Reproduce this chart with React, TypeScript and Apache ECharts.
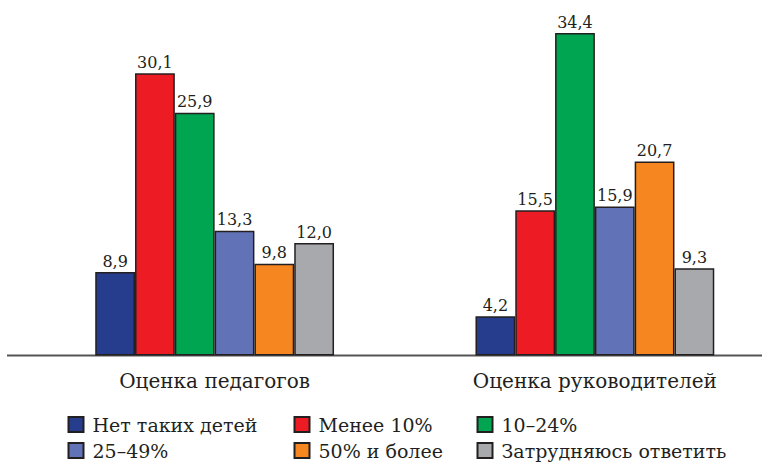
import React, { useEffect, useRef } from "react";
import * as echarts from "echarts";

const categories = ["Оценка педагогов", "Оценка руководителей"];
const seriesNames = [
  "Нет таких детей",
  "Менее 10%",
  "10–24%",
  "25–49%",
  "50% и более",
  "Затрудняюсь ответить",
];
const seriesValues = [
  [8.9, 4.2],
  [30.1, 15.5],
  [25.9, 34.4],
  [13.3, 15.9],
  [9.8, 20.7],
  [12.0, 9.3],
];
const colors = ["#253d8c", "#ed1c24", "#00a551", "#6272b6", "#f58620", "#a7a9ac"];

const FONT = "DejaVu Serif";

export default function App() {
  const ref = useRef<HTMLDivElement>(null);
  useEffect(() => {
    if (!ref.current) return;
    const chart = echarts.init(ref.current, null, { renderer: "svg" });
    const gridTop = 18;
    const gridBottom = 106.5;
    const legendLefts = [67.5, 293.5, 476.5];
    const legendTops = [415, 441];
    chart.setOption({
      animation: false,
      backgroundColor: "#ffffff",
      textStyle: { fontFamily: FONT },
      grid: { left: 24.5, right: 0, top: gridTop, bottom: gridBottom, containLabel: false },
      xAxis: {
        type: "category",
        data: categories,
        axisLine: { show: false },
        axisTick: { show: false },
        axisLabel: { color: "#231f20", fontSize: 20, fontFamily: FONT, margin: 15 },
      },
      yAxis: {
        type: "value",
        min: 0,
        max: 36,
        show: false,
        splitLine: { show: false },
      },
      legend: seriesNames.map((name, i) => ({
        data: [name],
        orient: "horizontal",
        left: legendLefts[i % 3],
        top: legendTops[Math.floor(i / 3)],
        itemWidth: 15,
        itemHeight: 15,
        padding: 0,
        icon: "rect",
        textStyle: { color: "#231f20", fontSize: 19, fontFamily: FONT, padding: [0, 0, 0, 4] },
        selectedMode: false,
      })),
      graphic: [
        {
          type: "line",
          z: 0,
          shape: { x1: 7, y1: 462 - gridBottom, x2: 762, y2: 462 - gridBottom },
          style: { stroke: "#555555", lineWidth: 2 },
        },
      ],
      series: seriesNames.map((name, i) => ({
        name,
        type: "bar",
        data: seriesValues[i],
        barWidth: 39.8,
        barGap: "0%",
        z: 3,
        itemStyle: { color: colors[i], borderColor: "#231f20", borderWidth: 1.5 },
        label: {
          show: true,
          position: "top",
          distance: 3,
          color: "#231f20",
          fontSize: 16,
          fontFamily: FONT,
          formatter: (p: any) => Number(p.value).toFixed(1).replace(".", ","),
        },
      })),
    });
    return () => chart.dispose();
  }, []);
  return (
    <div style={{ position: "fixed", left: 0, top: 0, width: 762, height: 462, overflow: "hidden" }}>
      <div ref={ref} style={{ width: 785, height: 462 }} />
    </div>
  );
}
